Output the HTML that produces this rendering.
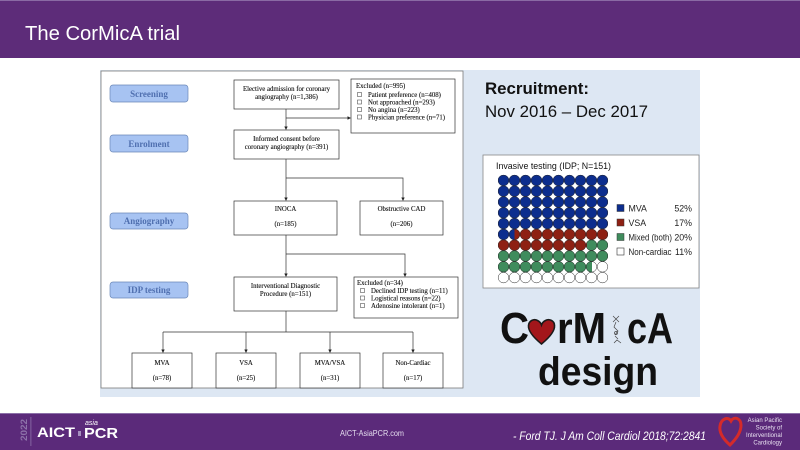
<!DOCTYPE html>
<html><head><meta charset="utf-8"><style>
html,body{margin:0;padding:0;background:#fff;}
svg{display:block;}
.s{font-family:"Liberation Serif",serif;fill:#111;stroke:#111;stroke-width:0.12;}
.a{font-family:"Liberation Sans",sans-serif;}
</style></head><body>
<svg width="800" height="450" viewBox="0 0 800 450" xmlns="http://www.w3.org/2000/svg" xmlns:xlink="http://www.w3.org/1999/xlink">
<defs>
<mask id="wm">
<rect x="0" y="0" width="800" height="450" fill="#000"/>
<rect x="498" y="175" width="110" height="108" fill="url(#cpw)"/>
</mask>
<pattern id="cpw" x="498" y="175" width="11" height="10.8" patternUnits="userSpaceOnUse">
<ellipse cx="5.5" cy="5.4" rx="5.6" ry="5.5" fill="#fff"/>
</pattern>
</defs>
<!-- header -->
<rect x="0" y="0" width="800" height="58" fill="#5d2c79"/>
<rect x="0" y="0" width="800" height="1" fill="#8a6aa4"/>
<text x="25" y="40" class="a" font-size="20" fill="#fff" textLength="155" lengthAdjust="spacingAndGlyphs">The CorMicA trial</text>

<!-- light blue background -->
<rect x="100" y="70" width="600" height="327" fill="#dde7f3"/>
<!-- flowchart panel -->
<rect x="101" y="71" width="362" height="317" fill="#fff" stroke="#7a7a7a" stroke-width="0.8"/>

<!-- phase labels -->
<g fill="#a7c3f2" stroke="#6b88b8" stroke-width="0.7">
<rect x="110" y="85" width="78" height="17" rx="3"/>
<rect x="110" y="135" width="78" height="17" rx="3"/>
<rect x="110" y="213" width="78" height="16" rx="3"/>
<rect x="110" y="282" width="78" height="16" rx="3"/>
</g>
<g font-family="Liberation Serif, serif" font-size="9" font-weight="bold" text-anchor="middle" fill="#5070b0">
<text x="149" y="96.8">Screening</text>
<text x="149" y="146.8">Enrolment</text>
<text x="149" y="224.2">Angiography</text>
<text x="149" y="293.2">IDP testing</text>
</g>

<!-- boxes -->
<g fill="#fff" stroke="#333" stroke-width="0.7">
<rect x="234" y="80" width="105" height="29"/>
<rect x="234" y="130" width="105" height="29"/>
<rect x="351" y="79" width="104" height="54"/>
<rect x="234" y="201" width="103" height="34"/>
<rect x="360" y="201" width="83" height="34"/>
<rect x="234" y="277" width="103" height="34"/>
<rect x="354" y="277" width="104" height="41"/>
<rect x="132" y="353" width="60" height="35"/>
<rect x="216" y="353" width="60" height="35"/>
<rect x="300" y="353" width="60" height="35"/>
<rect x="383" y="353" width="60" height="35"/>
</g>

<!-- connectors -->
<g stroke="#333" stroke-width="0.7" fill="none">
<path d="M286 109V127M286 118H348"/>
<path d="M286 159V178H403V198M286 178V198"/>
<path d="M286 235V254H405V274M286 254V274"/>
<path d="M286 311V332M163 332H413M163 332V350M246 332V350M330 332V350M413 332V350"/>
</g>
<g fill="#222">
<path d="M284.3 126.5h3.4l-1.7 3.5z"/>
<path d="M347.5 116.3v3.4l3.5 -1.7z"/>
<path d="M284.3 197.5h3.4l-1.7 3.5z"/>
<path d="M401.3 197.5h3.4l-1.7 3.5z"/>
<path d="M284.3 273.5h3.4l-1.7 3.5z"/>
<path d="M403.3 273.5h3.4l-1.7 3.5z"/>
<path d="M161.3 349.5h3.4l-1.7 3.5z"/>
<path d="M244.3 349.5h3.4l-1.7 3.5z"/>
<path d="M328.3 349.5h3.4l-1.7 3.5z"/>
<path d="M411.3 349.5h3.4l-1.7 3.5z"/>
</g>

<!-- box texts -->
<g class="s" font-size="6.8" text-anchor="middle">
<text x="286.5" y="91">Elective admission for coronary</text>
<text x="286.5" y="99">angiography (n=1,386)</text>
<text x="286.5" y="141">Informed consent before</text>
<text x="286.5" y="149">coronary angiography (n=391)</text>
<text x="285.5" y="211">INOCA</text>
<text x="285.5" y="226">(n=185)</text>
<text x="401.5" y="211">Obstructive CAD</text>
<text x="401.5" y="226">(n=206)</text>
<text x="285.5" y="288">Interventional Diagnostic</text>
<text x="285.5" y="296">Procedure (n=151)</text>
<text x="162" y="365">MVA</text>
<text x="162" y="380">(n=78)</text>
<text x="246" y="365">VSA</text>
<text x="246" y="380">(n=25)</text>
<text x="330" y="365">MVA/VSA</text>
<text x="330" y="380">(n=31)</text>
<text x="413" y="365">Non-Cardiac</text>
<text x="413" y="380">(n=17)</text>
</g>
<g class="s" font-size="6.8">
<text x="356" y="88">Excluded (n=995)</text>
<text x="368" y="97">Patient preference (n=408)</text>
<text x="368" y="104.5">Not approached (n=293)</text>
<text x="368" y="112">No angina (n=223)</text>
<text x="368" y="119.5">Physician preference (n=71)</text>
<text x="357" y="285">Excluded (n=34)</text>
<text x="371" y="293">Declined IDP testing (n=11)</text>
<text x="371" y="300.5">Logistical reasons (n=22)</text>
<text x="371" y="308">Adenosine intolerant (n=1)</text>
</g>
<g fill="none" stroke="#333" stroke-width="0.5">
<rect x="357.5" y="92.5" width="4" height="4"/>
<rect x="357.5" y="100" width="4" height="4"/>
<rect x="357.5" y="107.5" width="4" height="4"/>
<rect x="357.5" y="115" width="4" height="4"/>
<rect x="360.5" y="288.5" width="4" height="4"/>
<rect x="360.5" y="296" width="4" height="4"/>
<rect x="360.5" y="303.5" width="4" height="4"/>
</g>

<!-- right panel -->
<text x="485" y="94" class="a" font-size="17" font-weight="bold" fill="#111" textLength="104" lengthAdjust="spacingAndGlyphs">Recruitment:</text>
<text x="485" y="117" class="a" font-size="17" fill="#111" textLength="163" lengthAdjust="spacingAndGlyphs">Nov 2016 – Dec 2017</text>

<rect x="483" y="155" width="216" height="133" fill="#fff" stroke="#888" stroke-width="0.8"/>
<text x="496" y="169" class="a" font-size="9.5" fill="#111" textLength="115" lengthAdjust="spacingAndGlyphs">Invasive testing (IDP; N=151)</text>

<!-- waffle fills -->
<g mask="url(#wm)">
<rect x="497" y="174" width="112" height="111" fill="#ffffff"/>
<rect x="497" y="174" width="112" height="55.1" fill="#0c2d8e"/>
<rect x="497" y="229" width="17.5" height="11" fill="#0c2d8e"/>
<rect x="514.5" y="229" width="95" height="11" fill="#8e2013"/>
<rect x="497" y="239.9" width="90" height="10.9" fill="#8e2013"/>
<rect x="587" y="239.9" width="22" height="10.9" fill="#3f8c5d"/>
<rect x="497" y="250.7" width="112" height="10.9" fill="#3f8c5d"/>
<rect x="497" y="261.5" width="95" height="10.9" fill="#3f8c5d"/>
</g>
<!-- waffle outlines -->
<g id="wrow" fill="none" stroke="#2a2a2a" stroke-width="0.5">
<circle cx="503.5" cy="180.4" r="5.3"/><circle cx="514.5" cy="180.4" r="5.3"/><circle cx="525.5" cy="180.4" r="5.3"/><circle cx="536.5" cy="180.4" r="5.3"/><circle cx="547.5" cy="180.4" r="5.3"/><circle cx="558.5" cy="180.4" r="5.3"/><circle cx="569.5" cy="180.4" r="5.3"/><circle cx="580.5" cy="180.4" r="5.3"/><circle cx="591.5" cy="180.4" r="5.3"/><circle cx="602.5" cy="180.4" r="5.3"/>
</g>
<use href="#wrow" xlink:href="#wrow" y="10.8"/>
<use href="#wrow" xlink:href="#wrow" y="21.6"/>
<use href="#wrow" xlink:href="#wrow" y="32.4"/>
<use href="#wrow" xlink:href="#wrow" y="43.2"/>
<use href="#wrow" xlink:href="#wrow" y="54"/>
<use href="#wrow" xlink:href="#wrow" y="64.8"/>
<use href="#wrow" xlink:href="#wrow" y="75.6"/>
<use href="#wrow" xlink:href="#wrow" y="86.4"/>
<use href="#wrow" xlink:href="#wrow" y="97.2"/>

<!-- legend -->
<rect x="617" y="204.5" width="7" height="7" fill="#0c2d8e" stroke="#333" stroke-width="0.5"/>
<rect x="617" y="219" width="7" height="7" fill="#8e2013" stroke="#333" stroke-width="0.5"/>
<rect x="617" y="233.5" width="7" height="7" fill="#3f8c5d" stroke="#333" stroke-width="0.5"/>
<rect x="617" y="248" width="7" height="7" fill="#fff" stroke="#333" stroke-width="0.6"/>
<g class="a" font-size="8.8" fill="#222">
<text x="628.5" y="211.3">MVA</text>
<text x="628.5" y="225.8">VSA</text>
<text x="628.5" y="240.3" textLength="43.5" lengthAdjust="spacingAndGlyphs">Mixed (both)</text>
<text x="628.5" y="254.8" textLength="43" lengthAdjust="spacingAndGlyphs">Non-cardiac</text>
<g text-anchor="end">
<text x="692" y="211.3">52%</text>
<text x="692" y="225.8">17%</text>
<text x="692" y="240.3">20%</text>
<text x="692" y="254.8">11%</text>
</g>
</g>

<!-- CorMicA logo -->
<g font-weight="bold" fill="#111" style="font-family:'Liberation Sans',sans-serif">
<text x="500" y="343" font-size="44" textLength="29" lengthAdjust="spacingAndGlyphs">C</text>
<text x="557" y="343" font-size="44" textLength="49" lengthAdjust="spacingAndGlyphs">rM</text>
<text x="627" y="343" font-size="44" textLength="46" lengthAdjust="spacingAndGlyphs">cA</text>
<text x="538" y="385" font-size="40" textLength="120" lengthAdjust="spacingAndGlyphs">design</text>
</g>
<path d="M541.5 344 C533 337 528 331 528.5 325.5 C529 320.5 534 318.5 537.5 320.5 C539.5 321.5 541 323.5 541.5 325 C542 323.5 543.5 321.5 545.5 320.5 C549 318.5 554.5 320.5 554.5 325.5 C555 331 550 337 541.5 344Z" fill="#a3161b" stroke="#1a1a1a" stroke-width="1.6"/>
<g stroke="#444" stroke-width="0.7" fill="none">
<path d="M613 316l6 6M619 316l-6 6M616 322l-2 5 4 4-3 4M615 336l3 3M614 343l3-3 4 3"/>
<circle cx="616" cy="333" r="1.5"/>
</g>

<!-- footer -->
<rect x="0" y="413" width="800" height="37" fill="#5b2a7a"/>
<rect x="0" y="413" width="800" height="1" fill="#8c70a8"/>
<text transform="translate(27,441) rotate(-90)" class="a" font-size="9" font-weight="bold" fill="#8d72a9" textLength="22" lengthAdjust="spacingAndGlyphs">2022</text>
<rect x="30.5" y="417" width="0.8" height="29" fill="#8d72a9"/>
<text x="37" y="437" class="a" font-size="14" font-weight="bold" fill="#fff" textLength="38" lengthAdjust="spacingAndGlyphs">AICT</text>
<rect x="78" y="431" width="3" height="5" fill="#a58fbf"/>
<text x="84" y="438" class="a" font-size="15" font-weight="bold" fill="#fff" textLength="34" lengthAdjust="spacingAndGlyphs">PCR</text>
<text x="85" y="425" class="a" font-size="7" font-style="italic" fill="#fff">asia</text>
<text x="340" y="436" class="a" font-size="8" fill="#e4dcee" textLength="64" lengthAdjust="spacingAndGlyphs">AICT-AsiaPCR.com</text>
<text x="513" y="440" class="a" font-size="11.5" font-style="italic" fill="#fff" textLength="193" lengthAdjust="spacingAndGlyphs">- Ford TJ. J Am Coll Cardiol 2018;72:2841</text>
<path d="M730 445 C722 438 719 432 720 426 C721 419 728 416 731 421 C734 416 741 418 741 425 C741 432 737 438 730 445Z" fill="none" stroke="#d42a2a" stroke-width="3"/>
<g class="a" font-size="6" fill="#e8e0f0" text-anchor="end">
<text x="782" y="422">Asian Pacific</text>
<text x="782" y="429.5">Society of</text>
<text x="782" y="437">Interventional</text>
<text x="782" y="444.5">Cardiology</text>
</g>
</svg>
</body></html>
